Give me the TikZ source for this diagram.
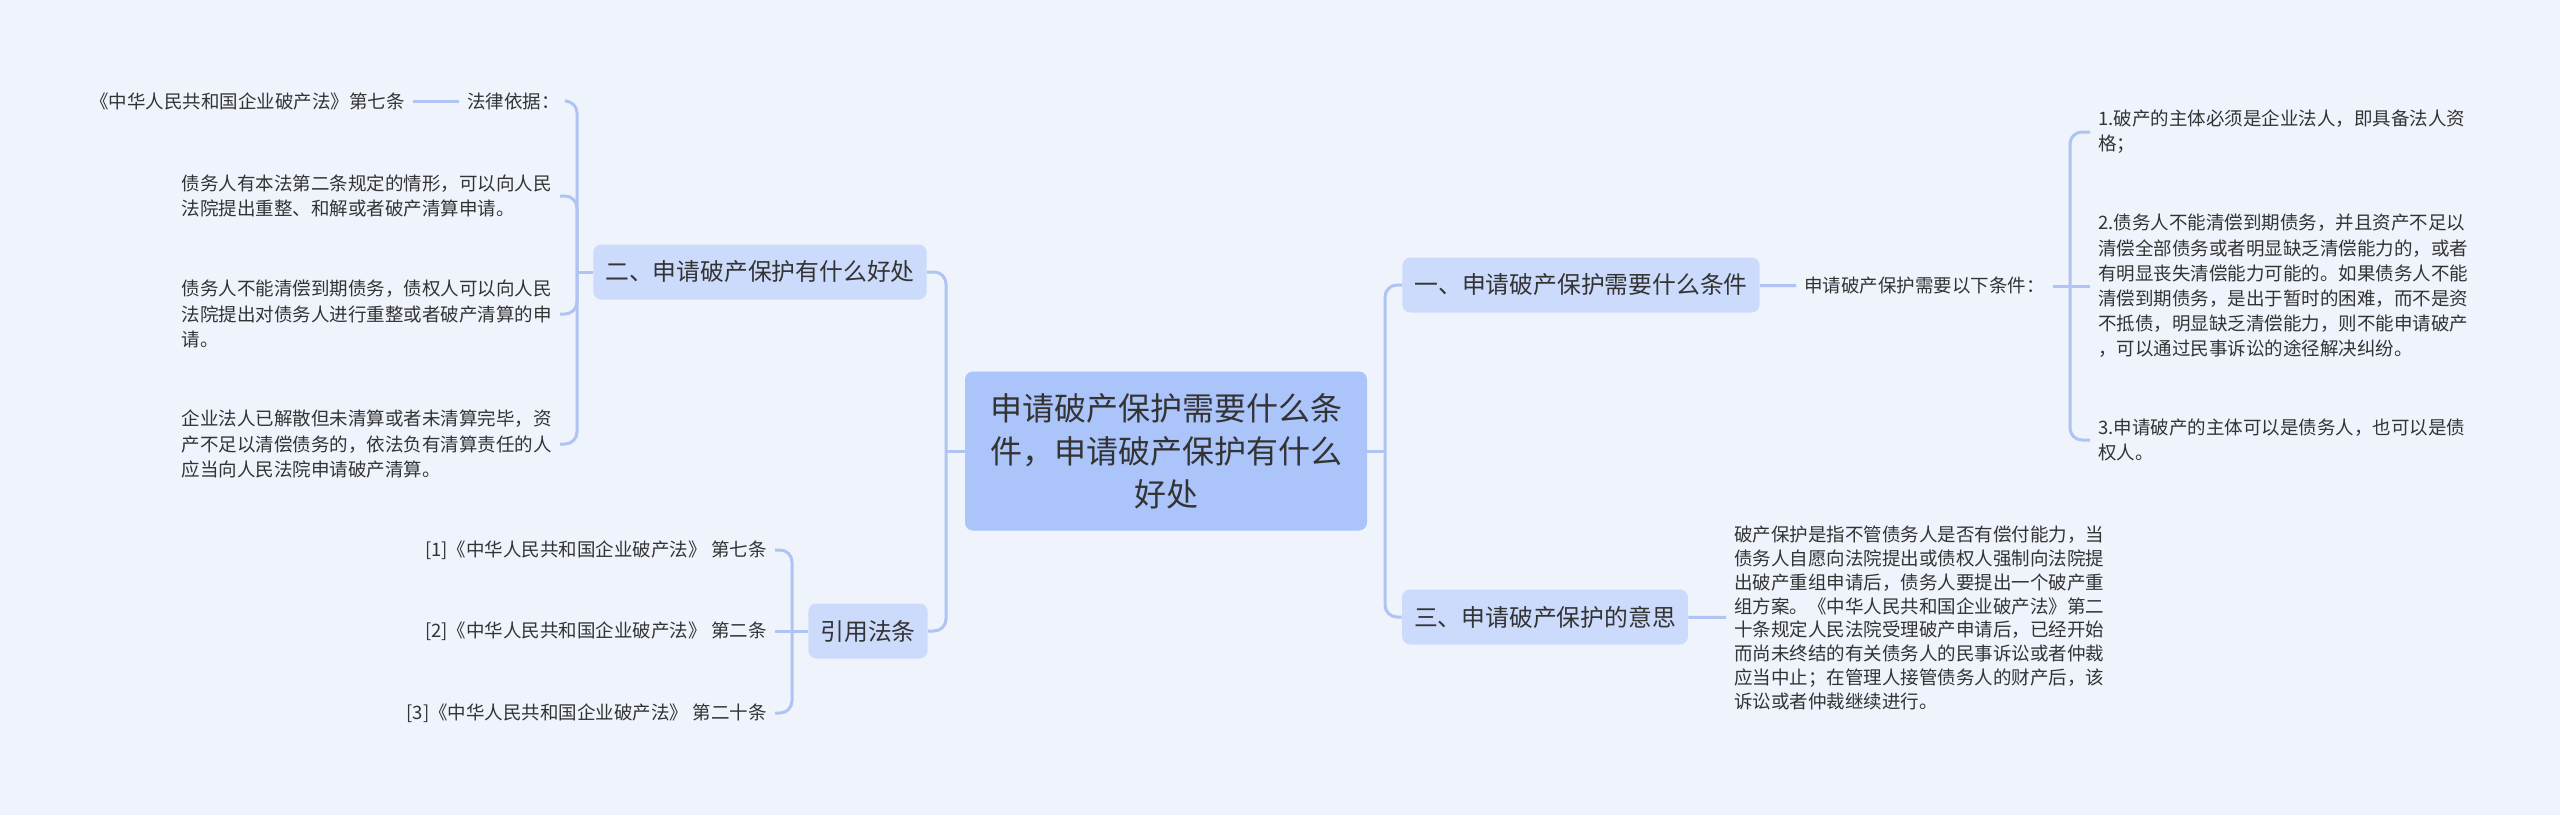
\documentclass[tikz,border=0pt]{standalone}
\usepackage{fontspec}
\setmainfont{Noto Sans CJK SC}
\usepackage{tikz}
\definecolor{bgc}{HTML}{EEF3FC}
\definecolor{rootc}{HTML}{ABC4FA}
\definecolor{boxc}{HTML}{CCDBFB}
\definecolor{linkc}{HTML}{AFC4F2}
\definecolor{txtc}{HTML}{333333}

\begin{document}
\begin{tikzpicture}[x=0.5pt, y=-0.5pt,
  link/.style={draw=linkc, line width=1.5pt, rounded corners=6pt},
  elbow/.style={to path={|- (\tikztotarget)}}]
\fill[bgc] (0,0) rectangle (2560,815);
\useasboundingbox (0,0) rectangle (2560,815);
\node[fill=rootc, rounded corners=4pt, text=txtc, align=center,
      minimum width=201pt, minimum height=79.5pt,
      font=\fontsize{16pt}{21.5pt}\selectfont] (root) at (1166,451)
  {申请破产保护需要什么条\\件，申请破产保护有什么\\好处};
 \begin{scope}[every node/.style={fill=boxc, rounded corners=4pt, text=txtc,
      inner xsep=6pt, minimum height=27.5pt, font=\fontsize{11.9pt}{14pt}\selectfont}]
  \node (b1) at (1581,285) {一、申请破产保护需要什么条件};
  \node (b2) at (760,272) {二、申请破产保护有什么好处};
  \node (b3) at (1545,617) {三、申请破产保护的意思};
  \node (b4) at (868,631) {引用法条};
 \end{scope}
 \begin{scope}[every node/.style={text=txtc, inner xsep=4pt, align=left,
      font=\fontsize{9.25pt}{12.6pt}\selectfont}]
  % left side
  \node[anchor=east] (law) at (413,101) {《中华人民共和国企业破产法》第七条};
  \node[anchor=east] (basis) at (568,101) {法律依据：};
  \node[anchor=east] (blk1) at (560,196) {债务人有本法第二条规定的情形，可以向人民\\法院提出重整、和解或者破产清算申请。};
  \node[anchor=east] (blk2) at (560,314) {债务人不能清偿到期债务，债权人可以向人民\\法院提出对债务人进行重整或者破产清算的申\\请。};
  \node[anchor=east] (blk3) at (560,444) {企业法人已解散但未清算或者未清算完毕，资\\产不足以清偿债务的，依法负有清算责任的人\\应当向人民法院申请破产清算。};
  \node[anchor=east] (r1) at (775,550) {[1]《中华人民共和国企业破产法》 第七条};
  \node[anchor=east] (r2) at (775,631) {[2]《中华人民共和国企业破产法》 第二条};
  \node[anchor=east] (r3) at (775,713) {[3]《中华人民共和国企业破产法》 第二十条};
  % right side
  \node[anchor=west] (cond) at (1796,286) {申请破产保护需要以下条件：};
  \node[anchor=west] (i1) at (2090,132) {1.破产的主体必须是企业法人，即具备法人资\\格；};
  \node[anchor=west] (i2) at (2090,286) {2.债务人不能清偿到期债务，并且资产不足以\\清偿全部债务或者明显缺乏清偿能力的，或者\\有明显丧失清偿能力可能的。如果债务人不能\\清偿到期债务，是出于暂时的困难，而不是资\\不抵债，明显缺乏清偿能力，则不能申请破产\\，可以通过民事诉讼的途径解决纠纷。};
  \node[anchor=west] (i3) at (2090,440) {3.申请破产的主体可以是债务人，也可以是债\\权人。};
  \node[anchor=west, font=\fontsize{9.25pt}{11.9pt}\selectfont] (para) at (1726,618) {破产保护是指不管债务人是否有偿付能力，当\\债务人自愿向法院提出或债权人强制向法院提\\出破产重组申请后，债务人要提出一个破产重\\组方案。《中华人民共和国企业破产法》第二\\十条规定人民法院受理破产申请后，已经开始\\而尚未终结的有关债务人的民事诉讼或者仲裁\\应当中止；在管理人接管债务人的财产后，该\\诉讼或者仲裁继续进行。};
 \end{scope}
 \coordinate (tl) at (946,451);
 \coordinate (tr) at (1385,451);
 \coordinate (k2) at (577,272);
 \coordinate (k4) at (792,631);
 \coordinate (kc) at (2070,286);
  \path (root) edge [link] (tl);
  \path (root) edge [link] (tr);
  \path (tl) edge [link, elbow] (b2);
  \path (tl) edge [link, elbow] (b4);
  \path (tr) edge [link, elbow] (b1);
  \path (tr) edge [link, elbow] (b3);
  \path (b2) edge [link] (k2);
  \path (k2) edge [link, elbow] (basis);
  \path (k2) edge [link, elbow] (blk1);
  \path (k2) edge [link, elbow] (blk2);
  \path (k2) edge [link, elbow] (blk3);
  \path (basis) edge [link] (law);
  \path (b4) edge [link] (k4);
  \path (k4) edge [link, elbow] (r1);
  \path (k4) edge [link] (r2);
  \path (k4) edge [link, elbow] (r3);
  \path (b1) edge [link] (cond);
  \path (cond) edge [link] (kc);
  \path (kc) edge [link, elbow] (i1);
  \path (kc) edge [link] (i2);
  \path (kc) edge [link, elbow] (i3);
  \path (b3) edge [link] (para);
\end{tikzpicture}
\end{document}
